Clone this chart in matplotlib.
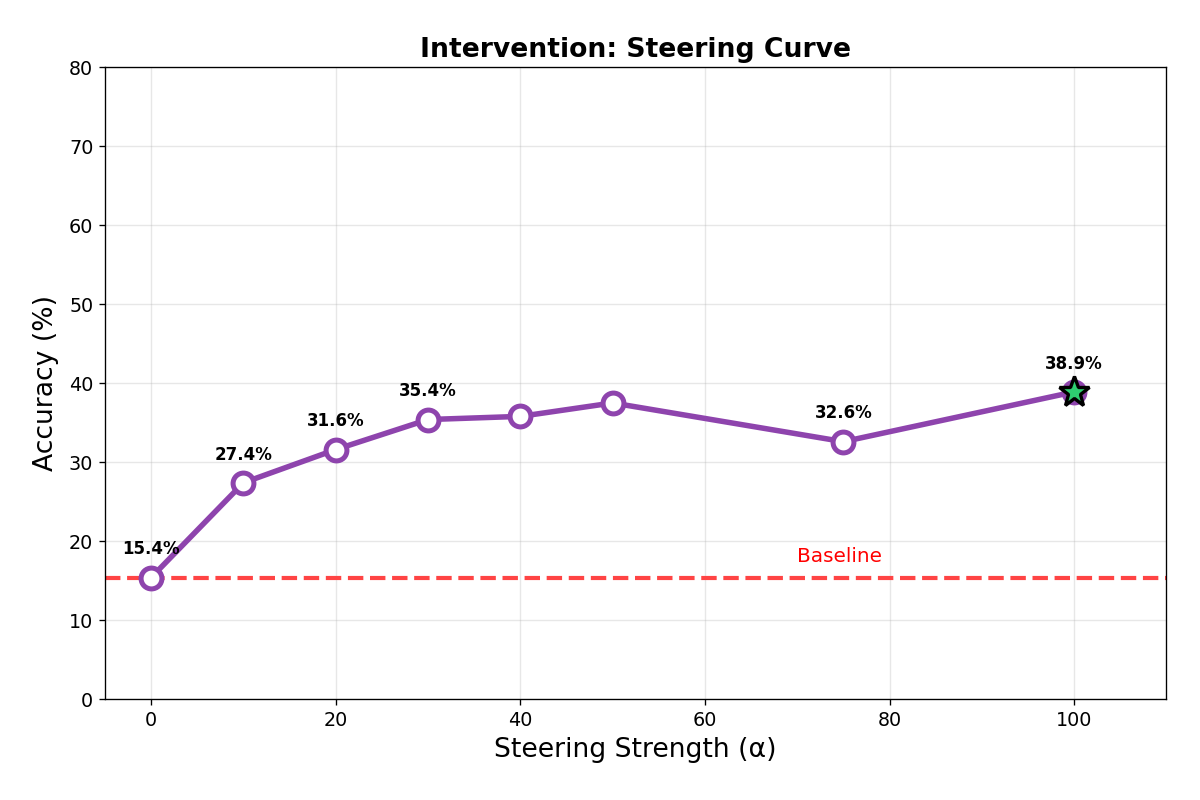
import numpy as np
import matplotlib
matplotlib.use("Agg")
import matplotlib.pyplot as plt

alphas = [0, 10, 20, 30, 40, 50, 75, 100]
accuracy = [15.4, 27.4, 31.6, 35.4, 35.8, 37.5, 32.6, 38.9]
labeled = [0, 10, 20, 30, 75, 100]
baseline = 15.4

fig, ax = plt.subplots(figsize=(10, 6.6667), dpi=120)

ax.plot(alphas, accuracy, color="#8e44ad", linewidth=3.3, marker="o",
        markersize=12.5, markerfacecolor="white", markeredgecolor="#8e44ad",
        markeredgewidth=3, zorder=3)

# best point
best = int(np.argmax(accuracy))
ax.plot(alphas[best], accuracy[best], marker="*", markersize=19,
        color="#2ecc71", markeredgecolor="black", markeredgewidth=2, zorder=4)

ax.axhline(baseline, color="#ff4444", linestyle="--", linewidth=2.5, zorder=2)
ax.text(70, baseline + 1.5, "Baseline", color="red", fontsize=12, ha="left",
        va="bottom")

for a, acc in zip(alphas, accuracy):
    if a in labeled:
        ax.annotate(f"{acc:.1f}%", (a, acc), textcoords="offset points",
                    xytext=(0, 11.5), ha="center", va="bottom", fontsize=10,
                    fontweight="bold")

ax.set_xlim(-5, 110)
ax.set_ylim(0, 80)
ax.set_xlabel("Steering Strength (α)", fontsize=16)
ax.set_ylabel("Accuracy (%)", fontsize=16, labelpad=6)
ax.set_title("Intervention: Steering Curve", fontsize=16, fontweight="bold")
ax.tick_params(labelsize=11.5)
ax.grid(True, alpha=0.3)

fig.subplots_adjust(left=0.0875, right=0.972, top=0.916, bottom=0.126)
fig.savefig("out.png", dpi=120)
